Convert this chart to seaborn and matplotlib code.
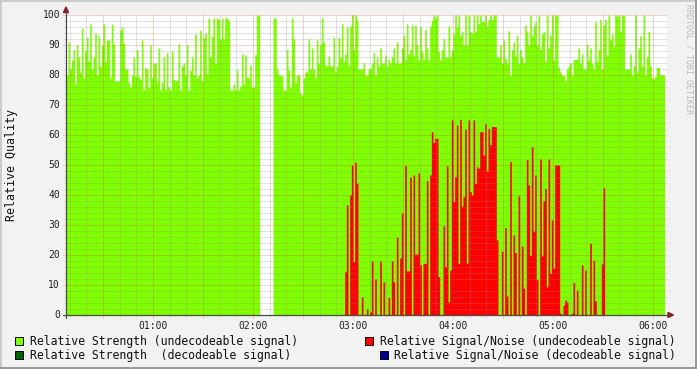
import numpy as np
import pandas as pd
import matplotlib
matplotlib.use("Agg")
import matplotlib.pyplot as plt
import seaborn as sns
from matplotlib.patches import Rectangle, Polygon
from matplotlib.lines import Line2D

# ---------------- data (minutes after 00:00, one value per minute) ----------------
strength_a_start = 8
strength_a = [80, 91, 82, 85, 88.5, 77, 90, 86, 81, 95.5, 79, 88, 92.5, 84.5, 97, 82, 86, 94, 80, 93,
              83, 90, 97, 84.5, 91.7, 91.7, 79, 97, 90.3, 78, 78, 78, 95, 96, 90.5, 82, 82, 77.5, 76, 80,
              86, 79.5, 88.5, 79.5, 78.5, 91.7, 75, 82.5, 82, 76, 90, 79, 84, 84, 78, 89, 75, 77.5, 86, 75,
              87.5, 76, 75, 88, 78.5, 78, 78.3, 90.3, 75, 83, 84, 80, 90, 75, 81.5, 86, 80, 93.7, 79, 80,
              95, 78, 92.5, 94, 80.3, 99, 86, 93, 99, 84, 99, 98.5, 92, 99, 92, 99, 99, 98, 75, 75,
              77, 75, 81.7, 75, 76.3, 87, 77, 86.7, 79.3, 79, 83.3, 76, 76, 86.7, 100, 100]

strength_b_start = 132
strength_b = [99, 99, 82, 80, 80, 79.7, 75, 75, 88.5, 81.7, 76, 99, 92, 77.5, 80, 80, 74, 73.3, 79, 81,
              81, 92, 82, 89, 82, 79.2, 91.7, 84, 90, 99, 91, 83.3, 83, 86.3, 83, 83, 92.5, 81, 83, 92.5,
              86, 97, 84.5, 87, 96, 83.3, 96.3, 100, 88.3, 100, 98.3, 82, 82, 82, 84, 80, 80, 82, 82.2, 84,
              87.5, 80, 86, 83, 89, 84, 84, 86.7, 83, 85.2, 84, 86, 89, 84, 91, 84, 84, 89, 93.3, 85,
              97, 87, 88.5, 96.7, 86.3, 96.7, 90, 85, 96, 88, 85.2, 95.2, 89, 85, 96.3, 98.3, 100, 99, 100, 87.8,
              85, 88.5, 92.2, 86, 86, 96.3, 86, 88.3, 93.7, 100, 96, 100, 93, 94.4, 90, 100, 90, 100]

strength_c_start = 250
strength_c = [94.4, 94, 100, 94.4, 100, 97, 100, 97.8, 97.8, 100, 96.3, 98.5, 100, 98.5, 100, 100, 86, 86, 90, 84,
              91.7, 85.5, 84, 94.7, 80, 88.5, 91, 86.3, 93.3, 84, 88.5, 86, 84, 96.7, 94.4, 90, 100, 93, 96.3, 97.8,
              90, 100, 88.5, 93.7, 94.4, 84.5, 100, 89, 93.3, 100, 85, 100, 100, 82.5, 81, 80, 80, 78, 82, 83,
              84, 80, 85.2, 85.2, 85.2, 89, 84, 87, 82, 82, 90.3, 85, 89, 84, 82, 97.7, 84.5, 88.5, 98.5, 82,
              96.7, 98.5, 86.3, 100, 91.8, 93.7, 89.5, 100, 99.5, 100, 94.5, 100, 100, 82, 82, 82, 87, 80, 83, 100,
              81, 89, 93, 83, 100, 80, 86, 94.5, 83, 79, 78.7, 79.5, 82.5, 82.5, 80, 80, 80]

snr_start = 175
snr = [14.4, 36.7, 0, 40, 50, 17.8, 51, 44, 0, 0, 6, 0, 0, 2, 0, 1, 18, 0, 12, 0,
       0, 18, 0, 11, 0, 0, 5.8, 0, 18, 11, 0, 26, 0, 19, 34, 0, 49.8, 14.7, 14.7, 46,
       0, 46.7, 20.3, 20.3, 47.4, 16.7, 0, 17.2, 17.2, 44.8, 0, 46.7, 61.1, 57.5, 58.9, 58.9, 12.8, 0, 0, 29.7,
       16.1, 49.7, 4.4, 15, 65, 37.8, 46.1, 63.3, 17.2, 65.2, 36.3, 39.4, 61.9, 17.2, 65, 41.1, 40, 65, 43.9, 49.4,
       48.9, 61.1, 61.1, 53.3, 63.7, 48.1, 62.2, 56.7, 62.8, 62.8, 62.8, 25, 0, 0, 21.3, 0, 29.1, 6.3, 0, 51.1,
       0, 26.7, 20.8, 0, 39.7, 0, 23, 8.9, 0, 51.9, 43.3, 19.8, 56.1, 28, 46.7, 11.9, 0, 52, 19.7, 38.1,
       42.2, 9.4, 52, 13.9, 31.7, 15.6, 50, 50, 50, 0.6, 0, 3.3, 5, 4.4, 0, 0, 0.6, 10.8, 0, 8.3,
       0, 0, 16.7, 0, 15, 0, 0, 23.9, 0, 18.3, 4.7, 0, 0, 0, 17, 42.4]

hour_labels = ["01:00", "02:00", "03:00", "04:00", "05:00", "06:00"]
y_label = "Relative Quality"
watermark = "RRDTOOL / TOBI OETIKER"
legend_items = [
    ("Relative Strength (undecodeable signal)", "#7FFF00"),
    ("Relative Signal/Noise (undecodeable signal)", "#FF0000"),
    ("Relative Strength  (decodeable signal)", "#006400"),
    ("Relative Signal/Noise (decodeable signal)", "#000090"),
]


def frame(start, vals):
    return pd.DataFrame({"minute": (start + np.arange(len(vals))).astype(float) + 0.5,
                         "value": np.asarray(vals, dtype=float)})


strength = pd.concat([frame(strength_a_start, strength_a),
                      frame(strength_b_start, strength_b),
                      frame(strength_c_start, strength_c)], ignore_index=True)
noise = frame(snr_start, snr)

# ---------------- figure ----------------
sns.set_theme(style="white")
plt.rcParams['font.family'] = ['DejaVu Sans Mono', 'DejaVu Sans']

W, H = 697, 369
BG = "#F2F2F2"
fig = plt.figure(figsize=(W / 100, H / 100), dpi=100)
fig.patch.set_facecolor(BG)

L, R, T, B = 66, 667, 15, 315
ax = fig.add_axes([L / W, 1 - B / H, (R - L) / W, (B - T) / H])
ax.set_facecolor("white")

X0 = 7.8
X1 = X0 + (R - L) * 0.6
first = strength_a_start
last = strength_c_start + len(strength_c)
nbins = last - first

sns.histplot(data=strength, x="minute", weights="value", bins=nbins, binrange=(first, last),
             element="step", fill=True, color="#7FFF00", alpha=1, linewidth=0, ax=ax, zorder=1)
sns.histplot(data=noise, x="minute", weights="value", bins=nbins, binrange=(first, last),
             element="step", fill=True, color="#FF0000", alpha=1, linewidth=0, ax=ax, zorder=2)

ax.set_xlim(X0, X1)
ax.set_ylim(0, 100)
for s in ax.spines.values():
    s.set_visible(False)
ax.set_xlabel("")
ax.set_ylabel("")
ax.set_xticks([])
ax.set_yticks([])

px_x = 0.6      # minutes per pixel
px_y = 1 / 3.0  # units per pixel

minor_c = (0.56, 0.56, 0.56, 0.5)
major_c = (0.87, 0.19, 0.19, 0.45)
dash = (0, (1, 1))
# horizontal grid
for v in range(2, 101, 2):
    major = v % 10 == 0
    ax.hlines(v, X0 - (3 if major else 2) * px_x, X1, colors=[major_c if major else minor_c],
              linewidth=0.72, linestyles=[dash], zorder=5, clip_on=False)
# vertical grid
for m in range(10, int(X1) + 1, 10):
    major = m % 30 == 0
    ax.vlines(m, -(3 if major else 2) * px_y, 100, colors=[major_c if major else minor_c],
              linewidth=0.72, linestyles=[dash], zorder=5, clip_on=False)


def fx(px):
    return px / W


def fy(py):
    return 1 - py / H


axis_c = "#4A4A4A"
arrow_c = "#8B1C1C"
fig.add_artist(Line2D([fx(66), fx(66)], [fy(318), fy(10)], color=axis_c, lw=0.9))
fig.add_artist(Line2D([fx(63), fx(669)], [fy(315), fy(315)], color=axis_c, lw=0.9))
fig.add_artist(Polygon([[fx(63.5), fy(12.5)], [fx(68.5), fy(12.5)], [fx(66), fy(7)]],
                       closed=True, color=arrow_c, transform=fig.transFigure))
fig.add_artist(Polygon([[fx(668), fy(312.5)], [fx(668), fy(317.5)], [fx(673.5), fy(315)]],
                       closed=True, color=arrow_c, transform=fig.transFigure))

# tick labels
for v in range(0, 101, 10):
    fig.text(fx(60), fy(315 - v * 3), str(v), ha="right", va="center", fontsize=7, color="#222222")
for i, lab in enumerate(hour_labels):
    minute = 60 * (i + 1)
    xpx = L + (minute - X0) / px_x
    fig.text(fx(xpx), fy(321), lab, ha="center", va="top", fontsize=7, color="#222222")

fig.text(fx(11.5), fy(165), y_label, rotation=90, ha="center", va="center", fontsize=8.4, color="#111111")
fig.text(fx(688.5), fy(4), watermark, rotation=270, ha="center", va="top", fontsize=6, color="#B8B8B8")

# legend
pos = [(15, 337, 30), (365, 337, 380), (15, 350.5, 30), (379.5, 350.5, 394.5)]
for (label, col), (bx, by, tx) in zip(legend_items, pos):
    fig.add_artist(Rectangle((fx(bx), fy(by + 8)), 8 / W, 8 / H, facecolor=col, edgecolor="#000000",
                             lw=0.7, transform=fig.transFigure))
    fig.text(fx(tx), fy(by + 4.5), label, ha="left", va="center", fontsize=8.3, color="#111111")

# 3D frame
fig.add_artist(Rectangle((0, 1 - 2 / H), 1, 2 / H, facecolor="#CBCBCB", lw=0, transform=fig.transFigure))
fig.add_artist(Rectangle((0, 0), 2 / W, 1, facecolor="#CBCBCB", lw=0, transform=fig.transFigure))
fig.add_artist(Rectangle((0, 0), 1, 2 / H, facecolor="#999999", lw=0, transform=fig.transFigure))
fig.add_artist(Rectangle((1 - 2 / W, 0), 2 / W, 1, facecolor="#999999", lw=0, transform=fig.transFigure))

fig.savefig("out.png", dpi=100, facecolor=BG)
